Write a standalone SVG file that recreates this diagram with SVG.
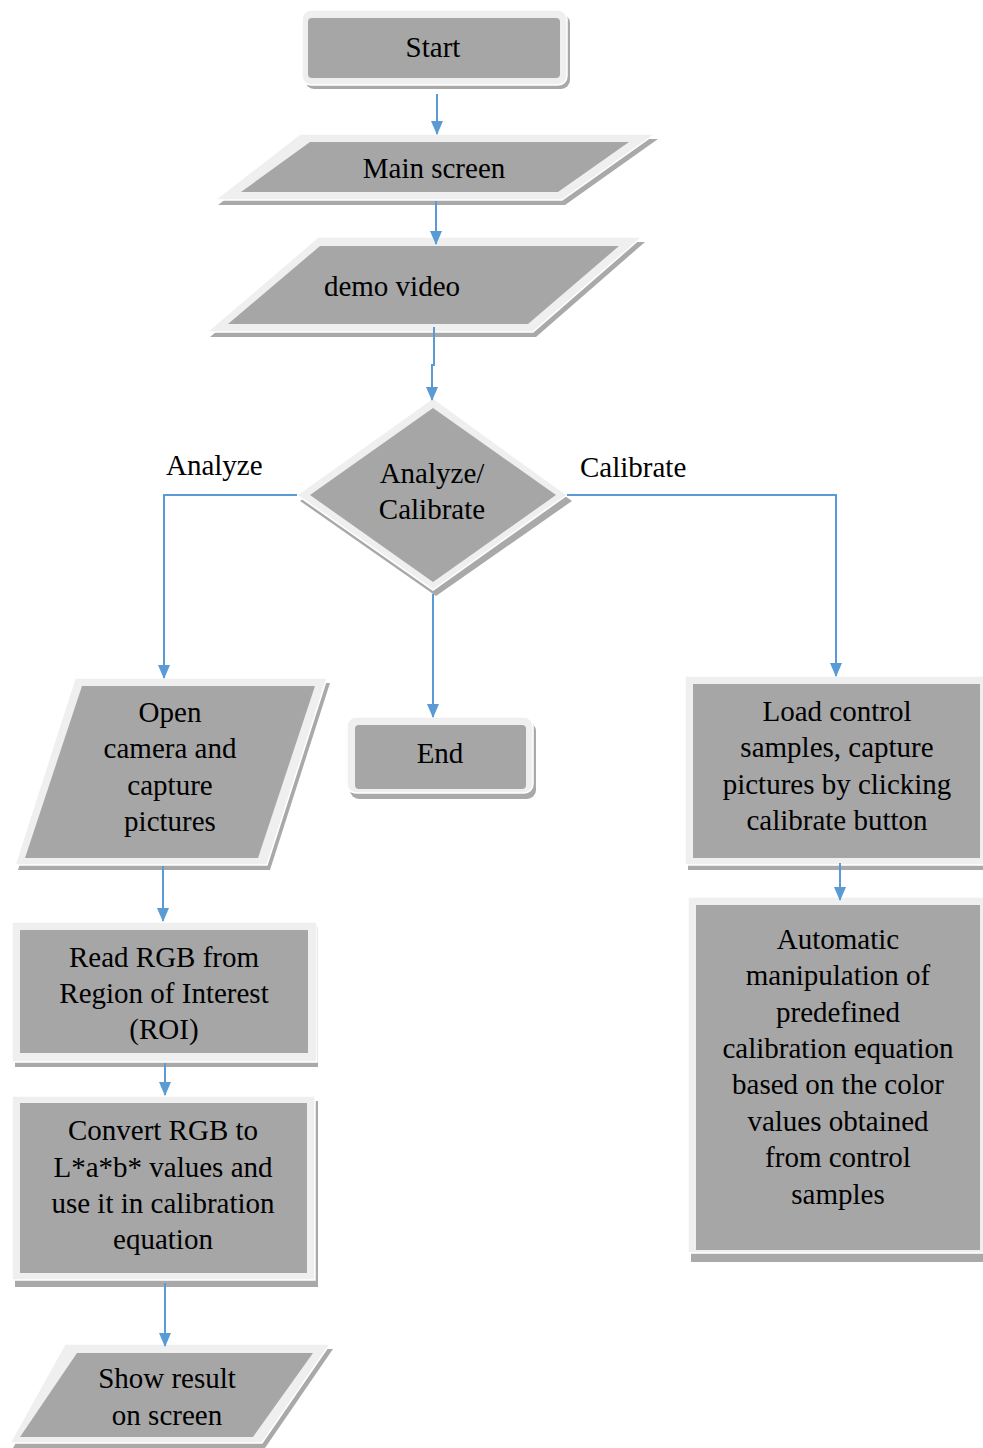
<svg xmlns="http://www.w3.org/2000/svg" width="983" height="1448" viewBox="0 0 983 1448">
<defs>
<style>
.sh{fill:#a9a9a9}
.out{fill:#efefef;stroke:#ffffff;stroke-width:1.5}
.in{fill:#a6a6a6}
.t{font-family:'Liberation Serif','Times New Roman',serif;font-size:29px;fill:#000;text-anchor:middle}
.lb{font-family:'Liberation Serif','Times New Roman',serif;font-size:29px;fill:#000}
.c{fill:none;stroke:#5b9bd5;stroke-width:2;marker-end:url(#ah)}
</style>
<marker id="ah" markerUnits="userSpaceOnUse" markerWidth="14" markerHeight="12" viewBox="0 0 14 12" refX="13" refY="6" orient="auto">
<path d="M0,0 L14,6 L0,12 Z" fill="#5b9bd5"/>
</marker>
</defs>
<rect width="983" height="1448" fill="#ffffff"/>

<g id="start">
<rect class="sh" x="305" y="14" width="265" height="75" rx="9"/>
<rect class="out" x="302" y="10" width="265" height="75" rx="9"/>
<rect class="in" x="308" y="18" width="252" height="60" rx="4"/>
<text class="t" x="433" y="57">Start</text>
</g>

<g id="main-screen">
<polygon class="sh" points="303,139 658,139 565,205 218,205"/>
<polygon class="out" points="300,134 655,134 562,200 215,200"/>
<polygon class="in" points="310,142 629,142 558,192 241,192"/>
<text class="t" x="434" y="178">Main screen</text>
</g>

<g id="demo-video">
<polygon class="sh" points="321,242 645,242 536,337 210,337"/>
<polygon class="out" points="318,237 642,237 533,332 207,332"/>
<polygon class="in" points="320,246 619,246 528,324 228,324"/>
<text class="t" x="392" y="296">demo video</text>
</g>

<g id="decision">
<polygon class="sh" points="436,403 572,501 436,596 300,501"/>
<polygon class="out" points="433,398 567,495 433,590 297,495"/>
<polygon class="in" points="433,408 556,495 433,582 310,495"/>
<text class="t" x="432" y="483">Analyze/</text>
<text class="t" x="432" y="519">Calibrate</text>
</g>

<g id="open-camera">
<polygon class="sh" points="78,683 330,683 270,870 18,870"/>
<polygon class="out" points="75,678 327,678 267,865 15,865"/>
<polygon class="in" points="82,686 315,686 258,858 25,858"/>
<text class="t" x="170" y="722">Open</text>
<text class="t" x="170" y="758">camera and</text>
<text class="t" x="170" y="795">capture</text>
<text class="t" x="170" y="831">pictures</text>
</g>

<g id="end">
<rect class="sh" x="350" y="722" width="186" height="77" rx="9"/>
<rect class="out" x="347" y="717" width="186" height="76" rx="9"/>
<rect class="in" x="355" y="725" width="171" height="64" rx="4"/>
<text class="t" x="440" y="763">End</text>
</g>

<g id="load-control">
<rect class="sh" x="688" y="681" width="298" height="189"/>
<rect class="out" x="685" y="676" width="300" height="189"/>
<rect class="in" x="693" y="684" width="287" height="174"/>
<text class="t" x="837" y="721">Load control</text>
<text class="t" x="837" y="757">samples, capture</text>
<text class="t" x="837" y="794">pictures by clicking</text>
<text class="t" x="837" y="830">calibrate button</text>
</g>

<g id="automatic">
<rect class="sh" x="691" y="902" width="295" height="360"/>
<rect class="out" x="688" y="897" width="297" height="356"/>
<rect class="in" x="696" y="905" width="284" height="345"/>
<text class="t" x="838" y="949">Automatic</text>
<text class="t" x="838" y="985">manipulation of</text>
<text class="t" x="838" y="1022">predefined</text>
<text class="t" x="838" y="1058">calibration equation</text>
<text class="t" x="838" y="1094">based on the color</text>
<text class="t" x="838" y="1131">values obtained</text>
<text class="t" x="838" y="1167">from control</text>
<text class="t" x="838" y="1204">samples</text>
</g>

<g id="read-rgb">
<rect class="sh" x="15" y="927" width="303" height="140"/>
<rect class="out" x="12" y="922" width="305" height="140"/>
<rect class="in" x="20" y="930" width="288" height="123"/>
<text class="t" x="164" y="967">Read RGB from</text>
<text class="t" x="164" y="1003">Region of Interest</text>
<text class="t" x="164" y="1039">(ROI)</text>
</g>

<g id="convert">
<rect class="sh" x="15" y="1101" width="303" height="186"/>
<rect class="out" x="12" y="1096" width="303" height="184"/>
<rect class="in" x="20" y="1103" width="287" height="170"/>
<text class="t" x="163" y="1140">Convert RGB to</text>
<text class="t" x="163" y="1177">L*a*b* values and</text>
<text class="t" x="163" y="1213">use it in calibration</text>
<text class="t" x="163" y="1249">equation</text>
</g>

<g id="show-result">
<polygon class="sh" points="68,1349 333,1349 265,1448 13,1448"/>
<polygon class="out" points="65,1344 330,1344 262,1443 10,1443"/>
<polygon class="in" points="77,1353 313,1353 253,1437 20,1437"/>
<text class="t" x="167" y="1388">Show result</text>
<text class="t" x="167" y="1425">on screen</text>
</g>

<g id="labels">
<text class="lb" x="166" y="475">Analyze</text>
<text class="lb" x="580" y="477">Calibrate</text>
</g>

<g id="connectors">
<path class="c" d="M437,94 V134"/>
<path class="c" d="M436,201 V244"/>
<path class="c" d="M434,327 V365 H432 V400"/>
<path class="c" d="M297,495 H164 V678"/>
<path class="c" d="M567,495 H836 V676"/>
<path class="c" d="M433,594 V717"/>
<path class="c" d="M163,866 V921"/>
<path class="c" d="M165,1063 V1095"/>
<path class="c" d="M165,1283 V1346"/>
<path class="c" d="M840,863 V900"/>
</g>
</svg>
